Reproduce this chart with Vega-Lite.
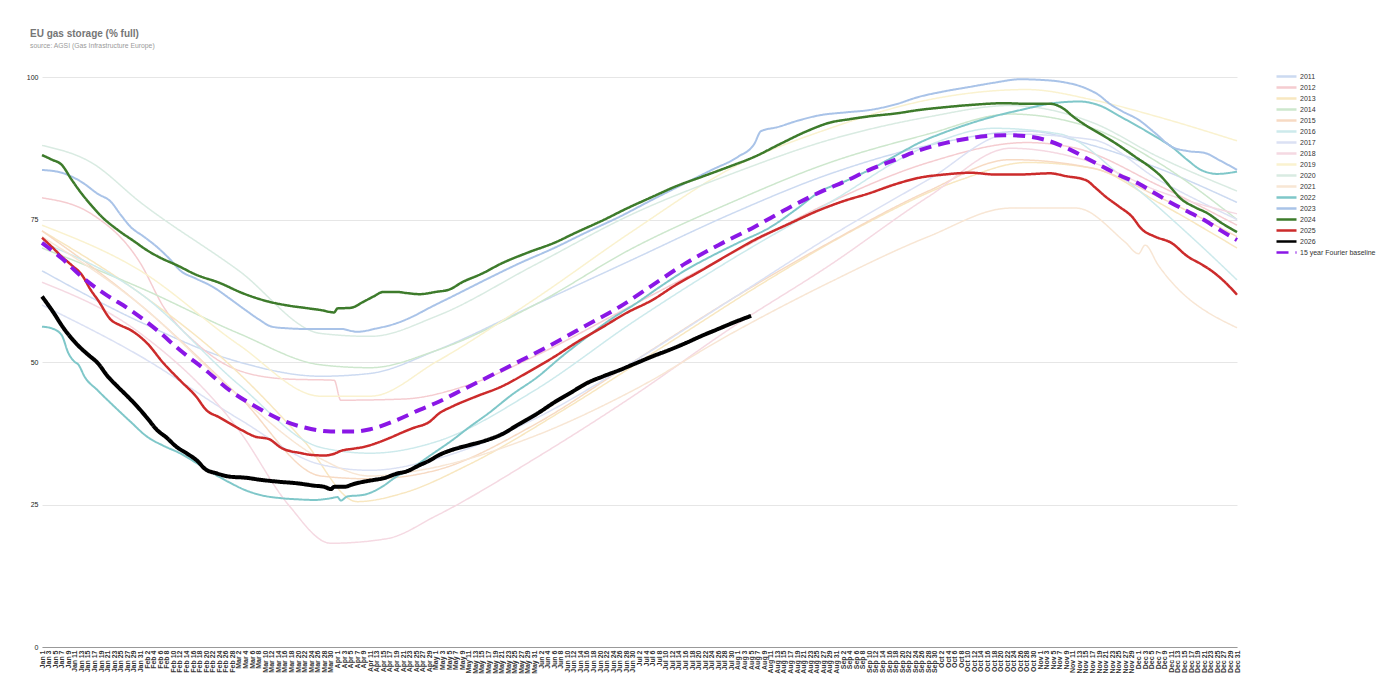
{
  "$schema": "https://vega.github.io/schema/vega-lite/v6.json",
  "width": 1195,
  "height": 570,
  "autosize": {"type": "none"},
  "padding": {"left": 42, "top": 77, "right": 142, "bottom": 51},
  "background": "white",
  "config": {"font": "Liberation Sans", "view": {"stroke": null}},
  "title": {
    "text": "EU gas storage (% full)",
    "subtitle": "source: AGSI (Gas Infrastructure Europe)",
    "anchor": "start",
    "frame": "group",
    "offset": 21,
    "dx": -12,
    "fontSize": 10,
    "fontWeight": "bold",
    "color": "#757575",
    "subtitleFontSize": 6.8,
    "subtitleColor": "#9a9a9a",
    "subtitlePadding": 4
  },
  "data": {"values": [
    {"series":"2011","day":0,"value":66},{"series":"2011","day":30,"value":57},{"series":"2011","day":60,"value":50},{"series":"2011","day":85,"value":47.5},{"series":"2011","day":100,"value":48},{"series":"2011","day":120,"value":52},{"series":"2011","day":150,"value":60},{"series":"2011","day":180,"value":68},{"series":"2011","day":210,"value":76},{"series":"2011","day":240,"value":83},{"series":"2011","day":270,"value":88},{"series":"2011","day":300,"value":90.5},{"series":"2011","day":320,"value":88},{"series":"2011","day":340,"value":84},{"series":"2011","day":364,"value":78},
    {"series":"2012","day":0,"value":78.8},{"series":"2012","day":15,"value":76},{"series":"2012","day":30,"value":67.3},{"series":"2012","day":37,"value":59.7},{"series":"2012","day":47,"value":53.3},{"series":"2012","day":60,"value":48.5},{"series":"2012","day":75,"value":47},{"series":"2012","day":89,"value":46.8},{"series":"2012","day":91,"value":43.3},{"series":"2012","day":110,"value":43.5},{"series":"2012","day":130,"value":46},{"series":"2012","day":150,"value":51},{"series":"2012","day":180,"value":60},{"series":"2012","day":210,"value":69},{"series":"2012","day":240,"value":78},{"series":"2012","day":270,"value":85},{"series":"2012","day":300,"value":88.5},{"series":"2012","day":315,"value":87.5},{"series":"2012","day":340,"value":81},{"series":"2012","day":364,"value":74},
    {"series":"2013","day":0,"value":73},{"series":"2013","day":30,"value":62},{"series":"2013","day":60,"value":48},{"series":"2013","day":80,"value":36},{"series":"2013","day":96,"value":25.5},{"series":"2013","day":110,"value":27},{"series":"2013","day":130,"value":32},{"series":"2013","day":160,"value":42},{"series":"2013","day":190,"value":53},{"series":"2013","day":220,"value":64},{"series":"2013","day":250,"value":74},{"series":"2013","day":280,"value":82},{"series":"2013","day":300,"value":85},{"series":"2013","day":320,"value":84},{"series":"2013","day":340,"value":78},{"series":"2013","day":364,"value":70},
    {"series":"2014","day":0,"value":70},{"series":"2014","day":30,"value":63},{"series":"2014","day":60,"value":55},{"series":"2014","day":85,"value":49.5},{"series":"2014","day":100,"value":49},{"series":"2014","day":120,"value":52},{"series":"2014","day":150,"value":60},{"series":"2014","day":180,"value":70},{"series":"2014","day":210,"value":78},{"series":"2014","day":240,"value":85},{"series":"2014","day":270,"value":90},{"series":"2014","day":295,"value":93.5},{"series":"2014","day":320,"value":91},{"series":"2014","day":340,"value":85},{"series":"2014","day":364,"value":75},
    {"series":"2015","day":0,"value":73},{"series":"2015","day":30,"value":60},{"series":"2015","day":60,"value":44},{"series":"2015","day":85,"value":30},{"series":"2015","day":100,"value":29.5},{"series":"2015","day":120,"value":31},{"series":"2015","day":150,"value":39},{"series":"2015","day":180,"value":50},{"series":"2015","day":210,"value":61},{"series":"2015","day":240,"value":71},{"series":"2015","day":270,"value":80},{"series":"2015","day":295,"value":85.5},{"series":"2015","day":320,"value":84},{"series":"2015","day":340,"value":79},{"series":"2015","day":364,"value":72},
    {"series":"2016","day":0,"value":71},{"series":"2016","day":30,"value":62},{"series":"2016","day":60,"value":46},{"series":"2016","day":85,"value":35},{"series":"2016","day":100,"value":34},{"series":"2016","day":120,"value":36},{"series":"2016","day":150,"value":45},{"series":"2016","day":180,"value":57},{"series":"2016","day":210,"value":68},{"series":"2016","day":240,"value":78},{"series":"2016","day":270,"value":88},{"series":"2016","day":290,"value":91},{"series":"2016","day":310,"value":90},{"series":"2016","day":330,"value":82},{"series":"2016","day":350,"value":72},{"series":"2016","day":364,"value":64.4},
    {"series":"2017","day":0,"value":60},{"series":"2017","day":30,"value":51},{"series":"2017","day":60,"value":40},{"series":"2017","day":85,"value":32},{"series":"2017","day":100,"value":31},{"series":"2017","day":120,"value":33},{"series":"2017","day":150,"value":40},{"series":"2017","day":180,"value":50},{"series":"2017","day":210,"value":61},{"series":"2017","day":240,"value":72},{"series":"2017","day":270,"value":82},{"series":"2017","day":295,"value":90},{"series":"2017","day":320,"value":89},{"series":"2017","day":340,"value":82},{"series":"2017","day":364,"value":75},
    {"series":"2018","day":0,"value":64},{"series":"2018","day":30,"value":55},{"series":"2018","day":60,"value":38},{"series":"2018","day":75,"value":25},{"series":"2018","day":88,"value":18.2},{"series":"2018","day":105,"value":19},{"series":"2018","day":120,"value":23},{"series":"2018","day":150,"value":33},{"series":"2018","day":180,"value":44},{"series":"2018","day":210,"value":56},{"series":"2018","day":240,"value":67},{"series":"2018","day":270,"value":79},{"series":"2018","day":295,"value":87.5},{"series":"2018","day":320,"value":85},{"series":"2018","day":340,"value":80},{"series":"2018","day":364,"value":76},
    {"series":"2019","day":0,"value":74},{"series":"2019","day":30,"value":66},{"series":"2019","day":60,"value":53},{"series":"2019","day":85,"value":44},{"series":"2019","day":100,"value":44},{"series":"2019","day":120,"value":50},{"series":"2019","day":150,"value":61},{"series":"2019","day":180,"value":73},{"series":"2019","day":210,"value":84},{"series":"2019","day":240,"value":91},{"series":"2019","day":270,"value":96},{"series":"2019","day":300,"value":97.8},{"series":"2019","day":320,"value":96},{"series":"2019","day":340,"value":93},{"series":"2019","day":364,"value":88.8},
    {"series":"2020","day":0,"value":88},{"series":"2020","day":15,"value":85},{"series":"2020","day":30,"value":78},{"series":"2020","day":60,"value":66},{"series":"2020","day":85,"value":55},{"series":"2020","day":100,"value":54.5},{"series":"2020","day":120,"value":58},{"series":"2020","day":150,"value":67},{"series":"2020","day":180,"value":76},{"series":"2020","day":210,"value":83},{"series":"2020","day":240,"value":89},{"series":"2020","day":270,"value":93},{"series":"2020","day":295,"value":95},{"series":"2020","day":320,"value":92},{"series":"2020","day":340,"value":86},{"series":"2020","day":364,"value":80},
    {"series":"2021","day":0,"value":72},{"series":"2021","day":30,"value":60},{"series":"2021","day":60,"value":44},{"series":"2021","day":85,"value":33},{"series":"2021","day":100,"value":30},{"series":"2021","day":115,"value":31},{"series":"2021","day":150,"value":37},{"series":"2021","day":180,"value":45},{"series":"2021","day":210,"value":55},{"series":"2021","day":240,"value":64},{"series":"2021","day":270,"value":72},{"series":"2021","day":295,"value":77},{"series":"2021","day":315,"value":77},{"series":"2021","day":330,"value":71},{"series":"2021","day":334,"value":69},{"series":"2021","day":336,"value":70.5},{"series":"2021","day":340,"value":67},{"series":"2021","day":364,"value":56},
    {"series":"2022","day":0,"value":56.2},{"series":"2022","day":3,"value":55.9},{"series":"2022","day":6,"value":54.7},{"series":"2022","day":8,"value":51.6},{"series":"2022","day":10,"value":50},{"series":"2022","day":11,"value":49.6},{"series":"2022","day":13,"value":47.4},{"series":"2022","day":17,"value":45},{"series":"2022","day":22,"value":42.2},{"series":"2022","day":27,"value":39.5},{"series":"2022","day":32,"value":36.9},{"series":"2022","day":37,"value":35.3},{"series":"2022","day":42,"value":34},{"series":"2022","day":47,"value":32.3},{"series":"2022","day":52,"value":30.5},{"series":"2022","day":57,"value":28.9},{"series":"2022","day":62,"value":27.5},{"series":"2022","day":67,"value":26.6},{"series":"2022","day":73,"value":26.1},{"series":"2022","day":78,"value":25.9},{"series":"2022","day":83,"value":25.8},{"series":"2022","day":88,"value":26.1},{"series":"2022","day":90,"value":26.3},{"series":"2022","day":91,"value":25.7},{"series":"2022","day":93,"value":26.4},{"series":"2022","day":98,"value":26.7},{"series":"2022","day":103,"value":27.9},{"series":"2022","day":108,"value":29.9},{"series":"2022","day":113,"value":31.5},{"series":"2022","day":118,"value":33.5},{"series":"2022","day":125,"value":36.3},{"series":"2022","day":130,"value":38.5},{"series":"2022","day":136,"value":41},{"series":"2022","day":143,"value":44.2},{"series":"2022","day":151,"value":47.4},{"series":"2022","day":158,"value":50.8},{"series":"2022","day":166,"value":54.4},{"series":"2022","day":173,"value":57.4},{"series":"2022","day":181,"value":60.3},{"series":"2022","day":188,"value":63.1},{"series":"2022","day":196,"value":66.1},{"series":"2022","day":204,"value":68.6},{"series":"2022","day":212,"value":70.9},{"series":"2022","day":222,"value":73.7},{"series":"2022","day":230,"value":76.9},{"series":"2022","day":237,"value":79.9},{"series":"2022","day":245,"value":81.8},{"series":"2022","day":252,"value":83.7},{"series":"2022","day":260,"value":86.2},{"series":"2022","day":267,"value":88.4},{"series":"2022","day":275,"value":90.3},{"series":"2022","day":283,"value":91.9},{"series":"2022","day":290,"value":93.1},{"series":"2022","day":298,"value":94.2},{"series":"2022","day":308,"value":95.4},{"series":"2022","day":316,"value":95.7},{"series":"2022","day":323,"value":94.8},{"series":"2022","day":328,"value":93.2},{"series":"2022","day":334,"value":91.3},{"series":"2022","day":339,"value":89.6},{"series":"2022","day":344,"value":87.8},{"series":"2022","day":349,"value":85.4},{"series":"2022","day":353,"value":83.7},{"series":"2022","day":358,"value":83},{"series":"2022","day":364,"value":83.4},
    {"series":"2023","day":0,"value":83.7},{"series":"2023","day":6,"value":83.2},{"series":"2023","day":12,"value":81.6},{"series":"2023","day":17,"value":79.5},{"series":"2023","day":21,"value":78.1},{"series":"2023","day":24,"value":75.8},{"series":"2023","day":27,"value":73.7},{"series":"2023","day":31,"value":72},{"series":"2023","day":35,"value":70.2},{"series":"2023","day":39,"value":68},{"series":"2023","day":42,"value":66.1},{"series":"2023","day":47,"value":64.6},{"series":"2023","day":52,"value":63.2},{"series":"2023","day":57,"value":61.2},{"series":"2023","day":62,"value":59.1},{"series":"2023","day":66,"value":57.5},{"series":"2023","day":70,"value":56.2},{"series":"2023","day":75,"value":55.9},{"series":"2023","day":80,"value":55.8},{"series":"2023","day":86,"value":55.8},{"series":"2023","day":91,"value":55.8},{"series":"2023","day":96,"value":55.3},{"series":"2023","day":102,"value":55.9},{"series":"2023","day":108,"value":56.8},{"series":"2023","day":113,"value":58},{"series":"2023","day":118,"value":59.5},{"series":"2023","day":125,"value":61.5},{"series":"2023","day":135,"value":64.4},{"series":"2023","day":145,"value":67.2},{"series":"2023","day":156,"value":70},{"series":"2023","day":166,"value":72.8},{"series":"2023","day":176,"value":75.5},{"series":"2023","day":186,"value":78.5},{"series":"2023","day":196,"value":81.4},{"series":"2023","day":204,"value":83.7},{"series":"2023","day":212,"value":86},{"series":"2023","day":217,"value":88.3},{"series":"2023","day":219,"value":90.5},{"series":"2023","day":224,"value":91.2},{"series":"2023","day":230,"value":92.3},{"series":"2023","day":237,"value":93.3},{"series":"2023","day":245,"value":93.8},{"series":"2023","day":252,"value":94.2},{"series":"2023","day":260,"value":95.2},{"series":"2023","day":267,"value":96.5},{"series":"2023","day":275,"value":97.5},{"series":"2023","day":283,"value":98.3},{"series":"2023","day":290,"value":99},{"series":"2023","day":298,"value":99.6},{"series":"2023","day":304,"value":99.5},{"series":"2023","day":310,"value":99.2},{"series":"2023","day":318,"value":98},{"series":"2023","day":322,"value":96.8},{"series":"2023","day":325,"value":95.4},{"series":"2023","day":329,"value":94},{"series":"2023","day":334,"value":92.5},{"series":"2023","day":339,"value":90.2},{"series":"2023","day":344,"value":87.8},{"series":"2023","day":349,"value":87},{"series":"2023","day":354,"value":86.7},{"series":"2023","day":359,"value":85.3},{"series":"2023","day":364,"value":83.7},
    {"series":"2024","day":0,"value":86.3},{"series":"2024","day":3,"value":85.5},{"series":"2024","day":6,"value":84.6},{"series":"2024","day":9,"value":82},{"series":"2024","day":12,"value":79.6},{"series":"2024","day":15,"value":77.5},{"series":"2024","day":18,"value":75.6},{"series":"2024","day":23,"value":73.2},{"series":"2024","day":28,"value":71.2},{"series":"2024","day":32,"value":69.6},{"series":"2024","day":36,"value":68.3},{"series":"2024","day":41,"value":67},{"series":"2024","day":47,"value":65.3},{"series":"2024","day":54,"value":63.9},{"series":"2024","day":61,"value":62.1},{"series":"2024","day":69,"value":60.6},{"series":"2024","day":75,"value":59.9},{"series":"2024","day":80,"value":59.5},{"series":"2024","day":85,"value":59.1},{"series":"2024","day":89,"value":58.7},{"series":"2024","day":90,"value":59.4},{"series":"2024","day":94,"value":59.5},{"series":"2024","day":98,"value":60.6},{"series":"2024","day":101,"value":61.5},{"series":"2024","day":104,"value":62.3},{"series":"2024","day":108,"value":62.3},{"series":"2024","day":111,"value":62.1},{"series":"2024","day":115,"value":61.9},{"series":"2024","day":120,"value":62.3},{"series":"2024","day":124,"value":62.7},{"series":"2024","day":128,"value":64},{"series":"2024","day":134,"value":65.5},{"series":"2024","day":140,"value":67.3},{"series":"2024","day":148,"value":69.2},{"series":"2024","day":156,"value":70.9},{"series":"2024","day":163,"value":72.8},{"series":"2024","day":171,"value":74.9},{"series":"2024","day":178,"value":76.9},{"series":"2024","day":186,"value":79},{"series":"2024","day":193,"value":80.8},{"series":"2024","day":201,"value":82.5},{"series":"2024","day":209,"value":84.2},{"series":"2024","day":217,"value":86},{"series":"2024","day":225,"value":88.3},{"series":"2024","day":233,"value":90.5},{"series":"2024","day":240,"value":92},{"series":"2024","day":246,"value":92.6},{"series":"2024","day":252,"value":93.1},{"series":"2024","day":260,"value":93.6},{"series":"2024","day":267,"value":94.2},{"series":"2024","day":275,"value":94.7},{"series":"2024","day":283,"value":95.1},{"series":"2024","day":293,"value":95.4},{"series":"2024","day":300,"value":95.3},{"series":"2024","day":307,"value":95.3},{"series":"2024","day":311,"value":94.5},{"series":"2024","day":314,"value":93.1},{"series":"2024","day":318,"value":91.5},{"series":"2024","day":323,"value":89.8},{"series":"2024","day":328,"value":88},{"series":"2024","day":333,"value":86},{"series":"2024","day":338,"value":84},{"series":"2024","day":341,"value":82.5},{"series":"2024","day":344,"value":80.5},{"series":"2024","day":347,"value":78.6},{"series":"2024","day":351,"value":77.2},{"series":"2024","day":355,"value":76.1},{"series":"2024","day":359,"value":74.5},{"series":"2024","day":364,"value":72.8},
    {"series":"2025","day":0,"value":71.8},{"series":"2025","day":3,"value":70.2},{"series":"2025","day":6,"value":68.5},{"series":"2025","day":9,"value":67},{"series":"2025","day":12,"value":65.4},{"series":"2025","day":15,"value":62.5},{"series":"2025","day":17,"value":60.9},{"series":"2025","day":21,"value":57.4},{"series":"2025","day":24,"value":56.4},{"series":"2025","day":27,"value":55.6},{"series":"2025","day":32,"value":53.3},{"series":"2025","day":37,"value":49.8},{"series":"2025","day":42,"value":46.8},{"series":"2025","day":47,"value":43.9},{"series":"2025","day":50,"value":41.6},{"series":"2025","day":54,"value":40.3},{"series":"2025","day":57,"value":39.3},{"series":"2025","day":61,"value":38},{"series":"2025","day":65,"value":36.9},{"series":"2025","day":69,"value":36.5},{"series":"2025","day":73,"value":34.9},{"series":"2025","day":79,"value":34},{"series":"2025","day":82,"value":33.7},{"series":"2025","day":86,"value":33.6},{"series":"2025","day":89,"value":33.9},{"series":"2025","day":91,"value":34.4},{"series":"2025","day":95,"value":34.8},{"series":"2025","day":98,"value":35.1},{"series":"2025","day":102,"value":35.8},{"series":"2025","day":106,"value":36.7},{"series":"2025","day":110,"value":37.7},{"series":"2025","day":113,"value":38.4},{"series":"2025","day":118,"value":39.5},{"series":"2025","day":121,"value":41},{"series":"2025","day":125,"value":42.2},{"series":"2025","day":132,"value":43.9},{"series":"2025","day":140,"value":45.7},{"series":"2025","day":148,"value":48.2},{"series":"2025","day":156,"value":50.9},{"series":"2025","day":163,"value":53.5},{"series":"2025","day":171,"value":56.2},{"series":"2025","day":178,"value":58.6},{"series":"2025","day":186,"value":60.9},{"series":"2025","day":193,"value":63.5},{"series":"2025","day":201,"value":66.1},{"series":"2025","day":209,"value":68.8},{"series":"2025","day":217,"value":71.4},{"series":"2025","day":227,"value":74.1},{"series":"2025","day":237,"value":76.7},{"series":"2025","day":244,"value":78.2},{"series":"2025","day":252,"value":79.6},{"series":"2025","day":260,"value":81.2},{"series":"2025","day":267,"value":82.3},{"series":"2025","day":275,"value":82.9},{"series":"2025","day":283,"value":83.2},{"series":"2025","day":290,"value":82.9},{"series":"2025","day":298,"value":82.9},{"series":"2025","day":307,"value":83.1},{"series":"2025","day":312,"value":82.6},{"series":"2025","day":318,"value":81.9},{"series":"2025","day":321,"value":80.5},{"series":"2025","day":324,"value":79},{"series":"2025","day":328,"value":77.3},{"series":"2025","day":332,"value":75.5},{"series":"2025","day":335,"value":73.3},{"series":"2025","day":339,"value":72},{"series":"2025","day":344,"value":70.9},{"series":"2025","day":349,"value":68.5},{"series":"2025","day":353,"value":67.2},{"series":"2025","day":356,"value":66.1},{"series":"2025","day":360,"value":64.2},{"series":"2025","day":364,"value":61.8},
    {"series":"2026","day":0,"value":61.5},{"series":"2026","day":3,"value":59.1},{"series":"2026","day":7,"value":55.6},{"series":"2026","day":11,"value":52.9},{"series":"2026","day":14,"value":51.3},{"series":"2026","day":17,"value":49.8},{"series":"2026","day":20,"value":47.5},{"series":"2026","day":23,"value":45.7},{"series":"2026","day":26,"value":44},{"series":"2026","day":29,"value":42.2},{"series":"2026","day":32,"value":40.2},{"series":"2026","day":35,"value":38.1},{"series":"2026","day":38,"value":36.7},{"series":"2026","day":41,"value":35.1},{"series":"2026","day":44,"value":34},{"series":"2026","day":47,"value":32.8},{"series":"2026","day":50,"value":31.1},{"series":"2026","day":53,"value":30.5},{"series":"2026","day":57,"value":29.9},{"series":"2026","day":62,"value":29.7},{"series":"2026","day":67,"value":29.3},{"series":"2026","day":72,"value":29},{"series":"2026","day":78,"value":28.7},{"series":"2026","day":83,"value":28.3},{"series":"2026","day":86,"value":28.1},{"series":"2026","day":88,"value":27.7},{"series":"2026","day":89,"value":28.1},{"series":"2026","day":92,"value":28.1},{"series":"2026","day":95,"value":28.6},{"series":"2026","day":98,"value":29},{"series":"2026","day":101,"value":29.3},{"series":"2026","day":104,"value":29.6},{"series":"2026","day":108,"value":30.4},{"series":"2026","day":111,"value":30.8},{"series":"2026","day":115,"value":31.9},{"series":"2026","day":118,"value":32.7},{"series":"2026","day":121,"value":33.7},{"series":"2026","day":125,"value":34.6},{"series":"2026","day":130,"value":35.4},{"series":"2026","day":135,"value":36.2},{"series":"2026","day":140,"value":37.3},{"series":"2026","day":145,"value":39},{"series":"2026","day":151,"value":41},{"series":"2026","day":156,"value":42.9},{"series":"2026","day":161,"value":44.6},{"series":"2026","day":166,"value":46.3},{"series":"2026","day":171,"value":47.5},{"series":"2026","day":176,"value":48.6},{"series":"2026","day":181,"value":49.8},{"series":"2026","day":186,"value":51},{"series":"2026","day":191,"value":52.1},{"series":"2026","day":196,"value":53.3},{"series":"2026","day":201,"value":54.6},{"series":"2026","day":206,"value":55.8},{"series":"2026","day":211,"value":57},{"series":"2026","day":216,"value":58.1},
    {"series":"15 year Fourier baseline","day":0,"value":70.9},{"series":"15 year Fourier baseline","day":6,"value":68.2},{"series":"15 year Fourier baseline","day":12,"value":65},{"series":"15 year Fourier baseline","day":19,"value":62},{"series":"15 year Fourier baseline","day":27,"value":59.1},{"series":"15 year Fourier baseline","day":35,"value":55.6},{"series":"15 year Fourier baseline","day":42,"value":52.1},{"series":"15 year Fourier baseline","day":50,"value":48.5},{"series":"15 year Fourier baseline","day":57,"value":45.1},{"series":"15 year Fourier baseline","day":65,"value":42.2},{"series":"15 year Fourier baseline","day":73,"value":39.8},{"series":"15 year Fourier baseline","day":80,"value":38.5},{"series":"15 year Fourier baseline","day":88,"value":37.8},{"series":"15 year Fourier baseline","day":95,"value":37.8},{"series":"15 year Fourier baseline","day":100,"value":38.2},{"series":"15 year Fourier baseline","day":108,"value":39.8},{"series":"15 year Fourier baseline","day":115,"value":41.6},{"series":"15 year Fourier baseline","day":120,"value":42.8},{"series":"15 year Fourier baseline","day":128,"value":45.1},{"series":"15 year Fourier baseline","day":136,"value":47.4},{"series":"15 year Fourier baseline","day":146,"value":50.3},{"series":"15 year Fourier baseline","day":156,"value":53.3},{"series":"15 year Fourier baseline","day":166,"value":56.5},{"series":"15 year Fourier baseline","day":176,"value":59.7},{"series":"15 year Fourier baseline","day":186,"value":63.5},{"series":"15 year Fourier baseline","day":196,"value":67.3},{"series":"15 year Fourier baseline","day":206,"value":70.5},{"series":"15 year Fourier baseline","day":217,"value":73.7},{"series":"15 year Fourier baseline","day":227,"value":76.9},{"series":"15 year Fourier baseline","day":237,"value":79.8},{"series":"15 year Fourier baseline","day":245,"value":81.8},{"series":"15 year Fourier baseline","day":252,"value":83.7},{"series":"15 year Fourier baseline","day":260,"value":85.5},{"series":"15 year Fourier baseline","day":267,"value":87.1},{"series":"15 year Fourier baseline","day":275,"value":88.4},{"series":"15 year Fourier baseline","day":283,"value":89.3},{"series":"15 year Fourier baseline","day":293,"value":89.8},{"series":"15 year Fourier baseline","day":300,"value":89.6},{"series":"15 year Fourier baseline","day":306,"value":88.9},{"series":"15 year Fourier baseline","day":313,"value":87.3},{"series":"15 year Fourier baseline","day":318,"value":85.8},{"series":"15 year Fourier baseline","day":323,"value":84.3},{"series":"15 year Fourier baseline","day":328,"value":82.8},{"series":"15 year Fourier baseline","day":334,"value":81.3},{"series":"15 year Fourier baseline","day":339,"value":79.6},{"series":"15 year Fourier baseline","day":344,"value":77.9},{"series":"15 year Fourier baseline","day":349,"value":76.4},{"series":"15 year Fourier baseline","day":354,"value":74.9},{"series":"15 year Fourier baseline","day":359,"value":73.1},{"series":"15 year Fourier baseline","day":364,"value":71.4}
  ]},
  "mark": {"type": "line", "interpolate": "monotone"},
  "encoding": {
    "x": {
      "field": "day",
      "type": "quantitative",
      "title": null,
      "scale": {"domain": [0, 364], "nice": false, "zero": false},
      "axis": {
        "tickCount": 183,
        "labelAngle": -90,
        "labelOverlap": false,
        "labelFlush": false,
        "grid": false,
        "ticks": false,
        "labelFontSize": 7,
        "labelFontWeight": "bold",
        "labelColor": "#333",
        "labelPadding": 3,
        "domainColor": "#999",
        "labelExpr": "timeFormat(datetime(2025, 0, 1 + datum.value), '%b %-d')"
      }
    },
    "y": {
      "field": "value",
      "type": "quantitative",
      "title": null,
      "scale": {"domain": [0, 100], "nice": false},
      "axis": {
        "values": [0, 25, 50, 75, 100],
        "domain": false,
        "ticks": false,
        "labelFontSize": 7,
        "labelColor": "#222",
        "labelPadding": 4,
        "gridColor": "#e6e6e6"
      }
    },
    "color": {
      "field": "series",
      "type": "nominal",
      "title": null,
      "scale": {
        "domain": ["2011","2012","2013","2014","2015","2016","2017","2018","2019","2020","2021","2022","2023","2024","2025","2026","15 year Fourier baseline"],
        "range": ["#ccdaf1","#f5ccd0","#f8e7c0","#cde7cd","#f7dac3","#cdeaec","#dbe1f4","#f5d9e2","#faf2cf","#d9ebe2","#f8e6d4","#7fc7c9","#a9c3e8","#3d7b2b","#cc2b2b","#000000","#8a17e6"]
      },
      "legend": {"orient": "none", "legendX": 1239, "legendY": -6, "labelFontSize": 7, "labelColor": "#333", "symbolType": "M-2.5,0L2.5,0", "symbolSize": 64, "symbolStrokeWidth": 2.5, "rowPadding": 0, "labelOffset": 8}
    },
    "strokeWidth": {
      "condition": [
        {"test": "datum.series === '2026' || datum.series === '15 year Fourier baseline'", "value": 4},
        {"test": "datum.series === '2024' || datum.series === '2025'", "value": 2.5},
        {"test": "datum.series === '2022' || datum.series === '2023'", "value": 2}
      ],
      "value": 1.5
    },
    "strokeDash": {
      "field": "series",
      "type": "nominal",
      "title": null,
      "scale": {
        "domain": ["2011","2012","2013","2014","2015","2016","2017","2018","2019","2020","2021","2022","2023","2024","2025","2026","15 year Fourier baseline"],
        "range": [[1,0],[1,0],[1,0],[1,0],[1,0],[1,0],[1,0],[1,0],[1,0],[1,0],[1,0],[1,0],[1,0],[1,0],[1,0],[1,0],[12,7]]
      },
      "legend": {"orient": "none", "legendX": 1239, "legendY": -6, "labelFontSize": 7, "labelColor": "#333", "symbolType": "M-2.5,0L2.5,0", "symbolSize": 64, "symbolStrokeWidth": 2.5, "rowPadding": 0, "labelOffset": 8}
    }
  }
}
